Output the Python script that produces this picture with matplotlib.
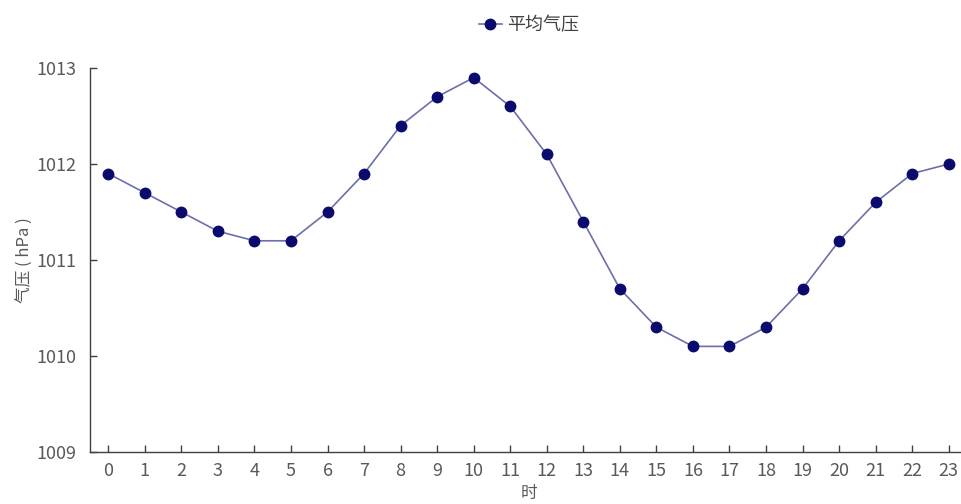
import matplotlib.pyplot as plt
import numpy as np

plt.rcParams['font.family'] = ['Noto Sans CJK SC', 'DejaVu Sans']

hours = list(range(24))
pressure = [1011.9, 1011.7, 1011.5, 1011.3, 1011.2, 1011.2, 1011.5, 1011.9,
            1012.4, 1012.7, 1012.9, 1012.6, 1012.1, 1011.4, 1010.7, 1010.3,
            1010.1, 1010.1, 1010.3, 1010.7, 1011.2, 1011.6, 1011.9, 1012.0]
y_ticks = [1009, 1010, 1011, 1012, 1013]
series_name = '平均气压'

fig = plt.figure(figsize=(9.62, 5.04), dpi=100)
ax = fig.add_axes([90 / 962, 52 / 504, 877 / 962, 384 / 504])

ax.plot(hours, pressure, color='#6e6eaa', linewidth=1.2, marker='o',
        markersize=7.5, markerfacecolor='#0b0b6e', markeredgecolor='#0b0b6e',
        label=series_name)

ax.set_xlim(-0.5, 23.5)
ax.set_ylim(1009, 1013)
ax.set_xticks(hours)
ax.set_yticks(y_ticks)
ax.tick_params(direction='in', length=5, width=1, colors='#404040',
               labelcolor='#595959', labelsize=13)
ax.tick_params(axis='x', pad=7)
ax.tick_params(axis='y', pad=10)

for side in ['top', 'right']:
    ax.spines[side].set_visible(False)
for side in ['left', 'bottom']:
    ax.spines[side].set_color('#404040')
    ax.spines[side].set_linewidth(1)

ax.set_ylabel('气压 ( hPa )', fontsize=12, color='#595959', labelpad=2)
ax.set_xlabel('时', fontsize=12, color='#595959', labelpad=4)

fig.legend(loc='upper center', bbox_to_anchor=(0.55, 1.0), frameon=False,
           handlelength=1.3, handletextpad=0.3, fontsize=13,
           labelcolor='#404040')

fig.savefig('out.png', dpi=100)
